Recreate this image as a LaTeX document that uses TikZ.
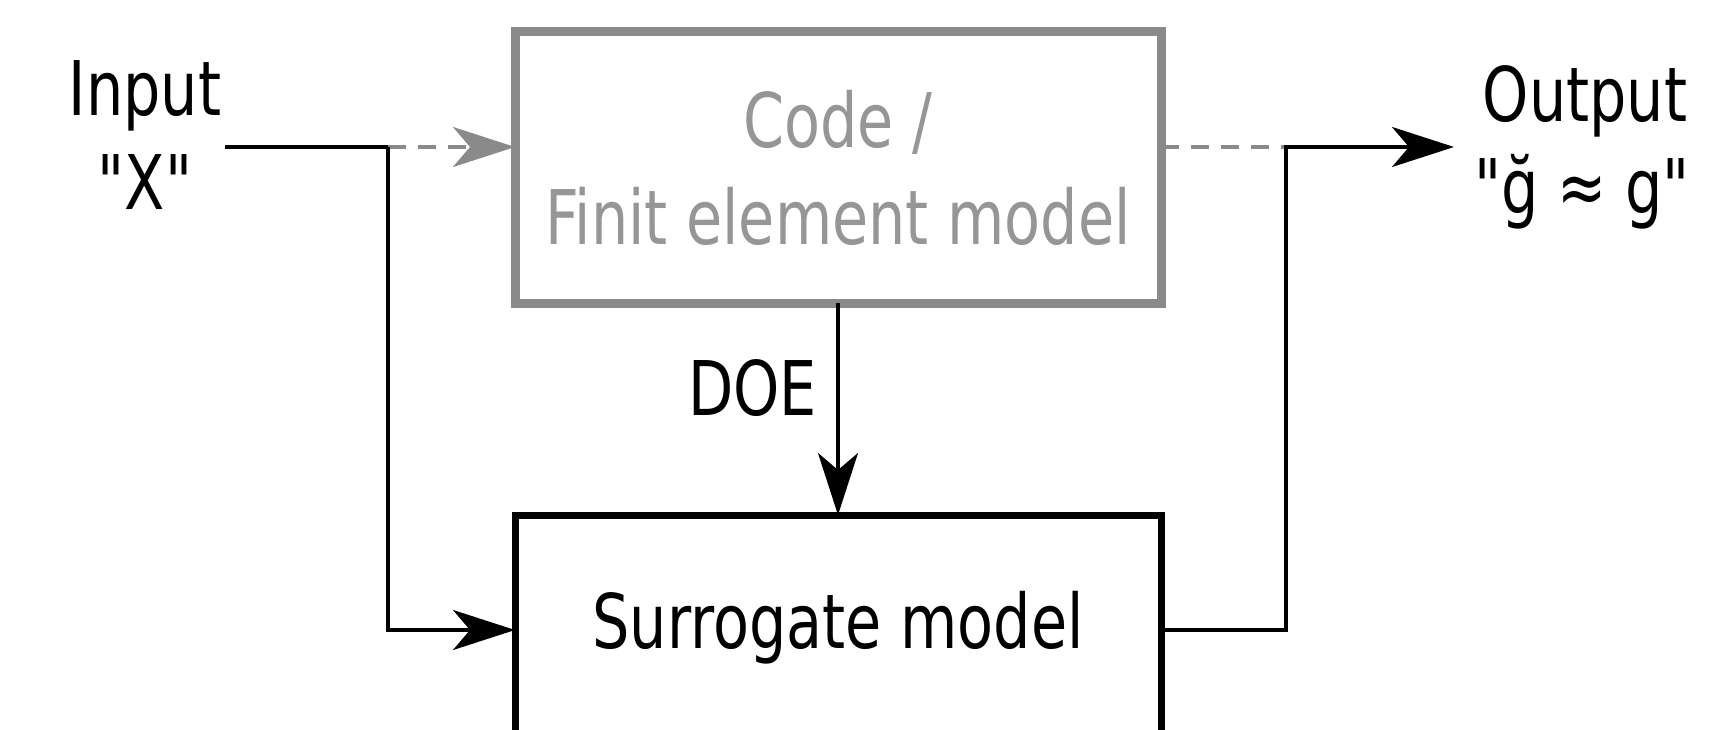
\documentclass[tikz,border=0pt]{standalone}
\usepackage{fontspec}
\newfontfamily\diagfont{DejaVu Sans}[FakeStretch=0.78]
\usetikzlibrary{arrows.meta}
\definecolor{boxgray}{RGB}{138,138,138}
\definecolor{textgray}{RGB}{150,150,150}
\begin{document}
\begin{tikzpicture}[x=1pt,y=-1pt,
  every node/.style={font=\diagfont\fontsize{75.4}{94}\selectfont, inner sep=0pt, outer sep=0pt},
  conn/.style={line width=3.3pt, draw=black},
  dconn/.style={line width=3.3pt, draw=boxgray, dash pattern=on 18pt off 12pt},
  tipped/.style={-{Stealth[length=62pt,width=40pt,inset=17pt]}},
  graybox/.style={draw=boxgray, line width=9pt, minimum width=646pt, minimum height=271pt},
  blackbox/.style={draw=black, line width=7pt, minimum width=646pt, minimum height=280pt},
  lbl/.style={anchor=base}]
\clip (0,0) rectangle (1721,730);
\fill[white] (0,0) rectangle (1721,730);
% boxes
\node[graybox] (code) at (838,167.5) {};
\node[blackbox] (surr) at (838,655) {};
% texts
\node[lbl, text=textgray] (codet1) at (838,148) {Code /};
\node[lbl, text=textgray] (codet2) at (838,244) {Finit element model};
\node[lbl] (surrt) at (838,648) {Surrogate model};
\node[lbl] (in1) at (145,116) {Input};
\node[lbl] (in2) at (145,210) {"X"};
\node[lbl] (out1) at (1585,122) {Output};
\node[lbl] (out2) at (1582,214) {"ğ ≈ g"};
\node[anchor=base east] (doe) at (817,415) {DOE};
% junction coordinates
\coordinate (a) at (225,147);
\coordinate (j1) at (388,147);
\coordinate (j2) at (388,630);
\coordinate (k1) at (1286,147);
\coordinate (k2) at (1286,630);
\coordinate (o) at (1454,147);
% connectors
\draw[conn] (a) -- (j1);
\draw[dconn, tipped] (j1) -- (code.west |- j1);
\draw[conn, tipped] (j1) -- (j2) -- (surr.west |- j2);
\draw[dconn] (code.east |- k1) -- (k1);
\draw[conn, tipped] (surr.east |- k2) -- (k2) -- (k1) -- (o);
\draw[conn, tipped] (code.south) -- (surr.north);
\end{tikzpicture}
\end{document}
